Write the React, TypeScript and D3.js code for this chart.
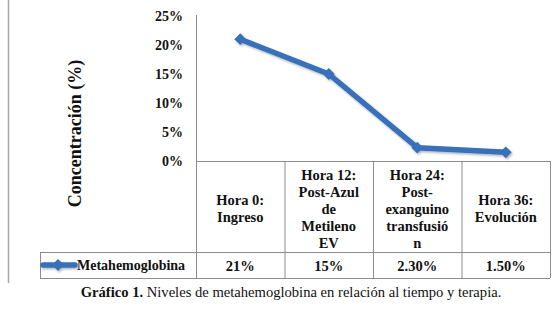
import React from "react";
import * as d3 from "d3";

const categories: string[][] = [
  ["Hora 0:", "Ingreso"],
  ["Hora 12:", "Post-Azul", "de", "Metileno", "EV"],
  ["Hora 24:", "Post-", "exanguino", "transfusió", "n"],
  ["Hora 36:", "Evolución"],
];
const values: number[] = [21, 15, 2.3, 1.5];
const valueLabels: string[] = ["21%", "15%", "2.30%", "1.50%"];
const yTicks: number[] = [0, 5, 10, 15, 20, 25];
const seriesName = "Metahemoglobina";
const yTitle = "Concentración (%)";
const captionBold = "Gráfico 1.";
const captionText = " Niveles de metahemoglobina en relación al tiempo y terapia.";

const W = 558;
const H = 313;
const BLUE = "#3771BA";
const GRID = "#8c8c8c";
const ff = { fontFamily: "Liberation Serif" };

export default function App() {
  const plotLeft = 196;
  const plotRight = 550;
  const plotTop = 16;
  const plotBottom = 161;
  const headerBottom = 252;
  const rowBottom = 278;
  const legendLeft = 40;

  const x = d3
    .scaleBand<number>()
    .domain(d3.range(categories.length))
    .range([plotLeft, plotRight])
    .paddingInner(0)
    .paddingOuter(0);
  const y = d3.scaleLinear().domain([0, 25]).range([plotBottom, plotTop]);

  const cx = (i: number) => (x(i) as number) + x.bandwidth() / 2;
  const line = d3
    .line<number>()
    .x((_, i) => cx(i))
    .y((d) => y(d));

  const marker = d3.symbol().type(d3.symbolSquare).size(70)() as string;

  const lineH = 17;
  const headerCenter = 208.5;

  return (
    <div style={{ position: "absolute", left: 0, top: 0 }}>
      <svg width={W} height={H} style={{ display: "block", background: "#fff" }}>
        <defs>
          <filter id="sh" x="-20%" y="-20%" width="140%" height="140%">
            <feDropShadow dx="1.2" dy="1.5" stdDeviation="1.2" floodColor="#000" floodOpacity="0.3" />
          </filter>
        </defs>
        <rect width={W} height={H} fill="#fff" />
        {/* page edge line */}
        <line x1={8.5} x2={8.5} y1={0} y2={283} stroke="#a8a8a8" strokeWidth={1.5} />

        {/* Y axis title */}
        <text
          transform={`translate(81,133.5) rotate(-90)`}
          textAnchor="middle"
          style={ff}
          fontWeight="bold"
          fontSize={18}
          fill="#111"
        >
          {yTitle}
        </text>

        {/* Y tick labels */}
        {yTicks.map((t) => (
          <text
            key={t}
            x={183}
            y={y(t)}
            dy="0.35em"
            textAnchor="end"
            style={ff}
            fontWeight="bold"
            fontSize={14}
            fill="#111"
          >
            {t}%
          </text>
        ))}

        {/* Y axis line */}
        <line x1={plotLeft + 0.5} x2={plotLeft + 0.5} y1={plotTop - 1} y2={plotBottom} stroke={GRID} strokeWidth={1} />

        {/* Data table */}
        <g stroke={GRID} strokeWidth={1} fill="none">
          <line x1={plotLeft} x2={plotRight} y1={plotBottom + 0.5} y2={plotBottom + 0.5} />
          <line x1={legendLeft} x2={plotRight} y1={headerBottom + 0.5} y2={headerBottom + 0.5} />
          <line x1={legendLeft} x2={plotRight} y1={rowBottom + 0.5} y2={rowBottom + 0.5} />
          <line x1={legendLeft + 0.5} x2={legendLeft + 0.5} y1={headerBottom} y2={rowBottom} />
          {d3.range(categories.length + 1).map((i) => {
            const xx = i < categories.length ? (x(i) as number) : plotRight;
            return <line key={i} x1={xx + 0.5} x2={xx + 0.5} y1={plotBottom} y2={rowBottom} />;
          })}
        </g>

        {/* Header texts */}
        {categories.map((lines, i) => (
          <text key={i} textAnchor="middle" style={ff} fontWeight="bold" fontSize={14.5} fill="#111">
            {lines.map((l, j) => (
              <tspan key={j} x={cx(i)} y={headerCenter + (j - (lines.length - 1) / 2) * lineH} dy="0.35em">
                {l}
              </tspan>
            ))}
          </text>
        ))}

        {/* Value row */}
        {valueLabels.map((v, i) => (
          <text
            key={i}
            x={cx(i)}
            y={265.5}
            dy="0.35em"
            textAnchor="middle"
            style={ff}
            fontWeight="bold"
            fontSize={14.5}
            fill="#111"
          >
            {v}
          </text>
        ))}

        {/* Legend key */}
        <g filter="url(#sh)">
          <line x1={43} x2={75} y1={265} y2={265} stroke={BLUE} strokeWidth={5.5} strokeLinecap="round" />
          <path d={marker} transform="translate(58,265) rotate(45)" fill={BLUE} />
        </g>
        <text x={77} y={265.5} dy="0.35em" style={ff} fontWeight="bold" fontSize={14} fill="#111">
          {seriesName}
        </text>

        {/* Series line */}
        <g filter="url(#sh)">
          <path d={line(values) as string} fill="none" stroke={BLUE} strokeWidth={5.5} strokeLinejoin="round" />
          {values.map((v, i) => (
            <path key={i} d={marker} transform={`translate(${cx(i)},${y(v)}) rotate(45)`} fill={BLUE} />
          ))}
        </g>

        {/* Caption */}
        <text x={291} y={297} textAnchor="middle" style={ff} fontSize={14.6} fill="#111">
          <tspan fontWeight="bold">{captionBold}</tspan>
          <tspan>{captionText}</tspan>
        </text>
      </svg>
    </div>
  );
}
